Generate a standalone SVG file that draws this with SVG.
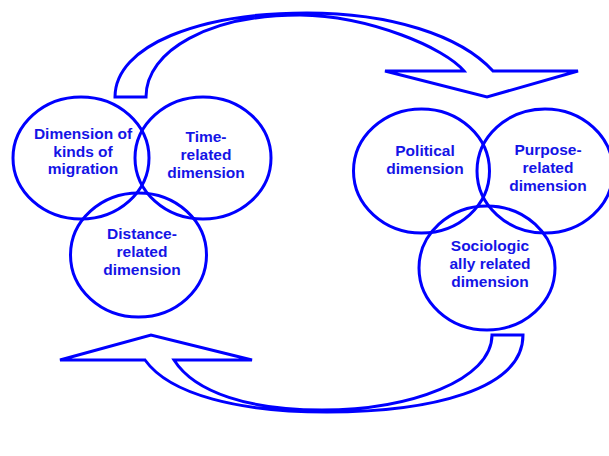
<svg xmlns="http://www.w3.org/2000/svg" width="609" height="456" viewBox="0 0 609 456">
<style>
.c{fill:none;stroke:#0000FF;stroke-width:3}
.a{fill:#FFFFFF;stroke:#0000FF;stroke-width:3;stroke-linejoin:miter}
.t{font-family:"Liberation Sans",Arial,sans-serif;font-weight:bold;font-size:15.5px;fill:#1414E6;text-anchor:middle}
</style>
<rect width="609" height="456" fill="#FFFFFF"/>
<g id="connectors">
<path class="a" d="M115,97 C115,45 200,13 307,13 C390,13 460,35 493,71 L578,71 L487,97 L385,71 L464,71 C445,48 370,16 300,15 C210,15 146,50 146,97 Z"/>
<path class="a" d="M523,335 C523,390 430,412 327,412 C240,412 170,395 145,360 L60,360 L151,335 L252,360 L174,360 C195,393 250,410 322,410 C410,410 492,380 492,335 Z"/>
</g>
<g id="node-kinds">
<ellipse class="c" cx="81" cy="158" rx="68" ry="61"/>
<text class="t" x="83" y="139">Dimension of</text>
<text class="t" x="83" y="156.5">kinds of</text>
<text class="t" x="83" y="174">migration</text>
</g>
<g id="node-time">
<ellipse class="c" cx="203" cy="158" rx="68" ry="61"/>
<text class="t" x="206" y="141.5">Time-</text>
<text class="t" x="206" y="159.5">related</text>
<text class="t" x="206" y="177.5">dimension</text>
</g>
<g id="node-distance">
<ellipse class="c" cx="138.5" cy="255" rx="68" ry="62"/>
<text class="t" x="142" y="238.5">Distance-</text>
<text class="t" x="142" y="256.5">related</text>
<text class="t" x="142" y="275">dimension</text>
</g>
<g id="node-political">
<ellipse class="c" cx="421.5" cy="171" rx="68" ry="62"/>
<text class="t" x="425" y="156">Political</text>
<text class="t" x="425" y="174">dimension</text>
</g>
<g id="node-purpose">
<ellipse class="c" cx="545" cy="171" rx="68" ry="62"/>
<text class="t" x="548" y="155">Purpose-</text>
<text class="t" x="548" y="173">related</text>
<text class="t" x="548" y="191">dimension</text>
</g>
<g id="node-sociological">
<ellipse class="c" cx="487" cy="268" rx="68" ry="62"/>
<text class="t" x="490" y="250.5">Sociologic</text>
<text class="t" x="490" y="268.5">ally related</text>
<text class="t" x="490" y="286.5">dimension</text>
</g>
</svg>
